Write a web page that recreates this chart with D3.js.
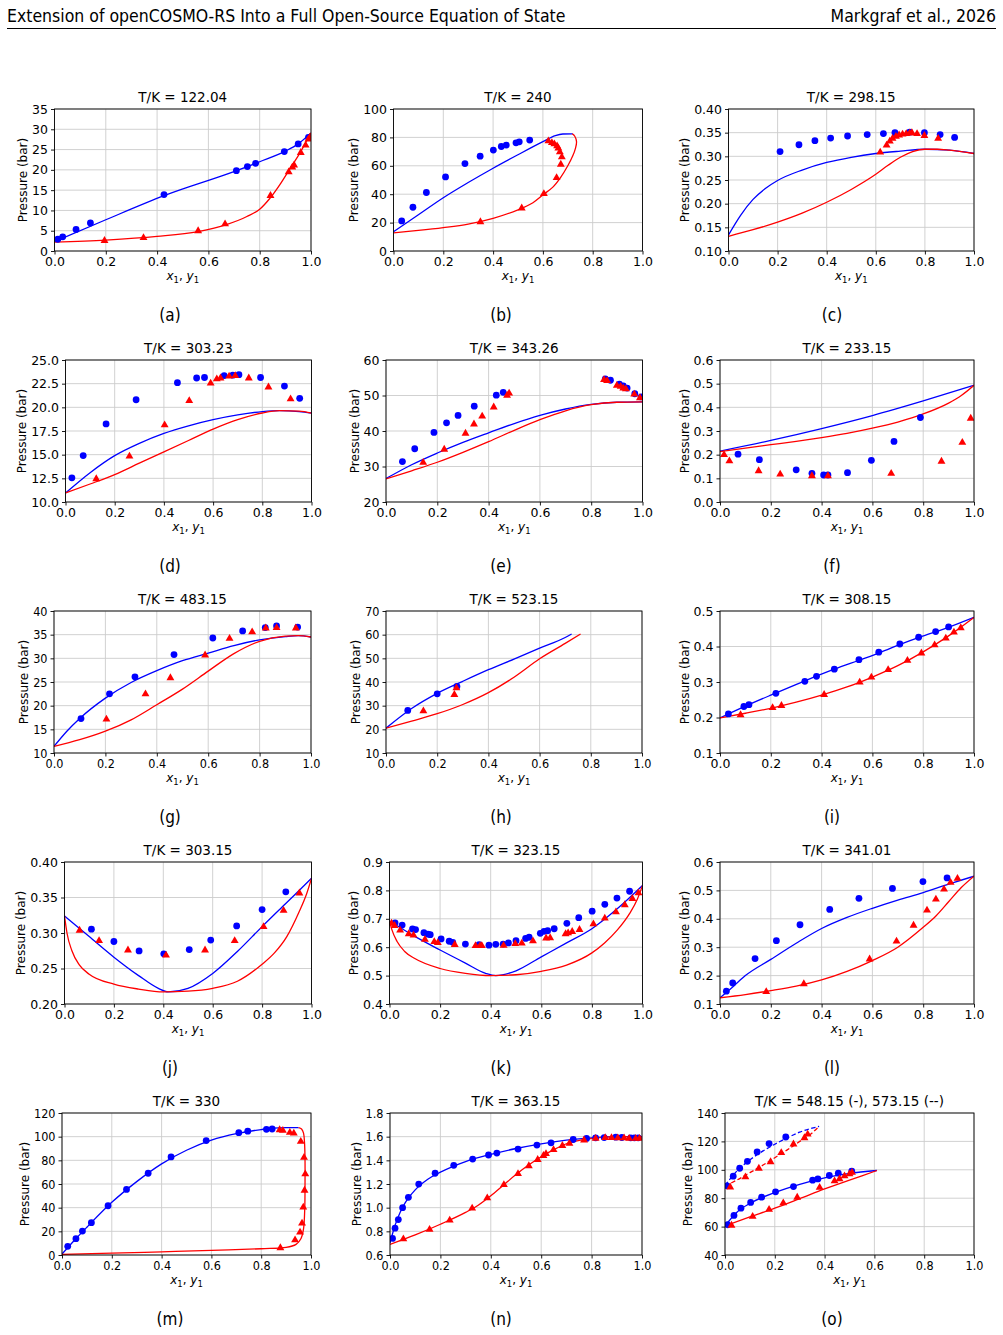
<!DOCTYPE html>
<html>
<head>
<meta charset="utf-8">
<script src="https://cdn.jsdelivr.net/npm/d3@7"></script>
<style>
  body { margin: 0; background: #fff; }
  svg text { font-family: "DejaVu Sans", sans-serif; fill: #000; }
</style>
</head>
<body>
<svg id="fig"></svg>
<script>
// ---- data: [x1 or y1, pressure] ----

// (a) T/K = 122.04
const aCircles = [[0.013,2.9],[0.032,3.5],[0.084,5.3],[0.14,6.9],[0.427,13.9],[0.709,19.8],[0.752,20.8],[0.784,21.6],[0.896,24.5],[0.95,26.4],[0.99,28.0]];
const aTriangles = [[0.195,2.7],[0.347,3.4],[0.56,5.1],[0.665,6.8],[0.842,13.8],[0.913,19.6],[0.927,20.8],[0.934,21.3],[0.96,24.4],[0.979,26.2],[0.99,27.7],[0.995,28.1]];
const aBubble = [[0,2.3],[0.2,7.7],[0.43,13.7],[0.71,19.8],[0.8,22.0],[0.9,24.6],[0.95,26.4],[1.0,29.1]];
const aDew = [[0,2.2],[0.2,2.7],[0.4,3.6],[0.56,4.8],[0.67,6.5],[0.75,8.5],[0.8,10.3],[0.84,13.0],[0.88,16.5],[0.92,20.5],[0.96,24.5],[0.98,26.8],[1.0,29.1]];

// (b) T/K = 240
const bCircles = [[0.033,21.2],[0.078,30.8],[0.132,41.2],[0.209,52.2],[0.287,61.6],[0.348,66.8],[0.401,71.1],[0.433,73.6],[0.453,74.6],[0.492,76.2],[0.505,76.9],[0.547,78.1]];
const bTriangles = [[0.349,20.9],[0.515,30.6],[0.604,40.7],[0.655,52.0],[0.672,61.4],[0.676,66.6],[0.668,70.1],[0.662,72.8],[0.657,74.3],[0.646,75.8],[0.636,76.6],[0.622,77.9]];
const bBubble = [[0,13.5],[0.1,25.5],[0.2,37.5],[0.3,48.2],[0.4,58.3],[0.5,67.8],[0.6,77.0],[0.65,81.3],[0.68,82.4],[0.72,82.5]];
const bDew = [[0,12.8],[0.1,14.5],[0.2,16.5],[0.3,19.0],[0.4,23.0],[0.5,29.0],[0.56,34.0],[0.6,39.5],[0.64,45.0],[0.67,51.5],[0.7,60.0],[0.72,67.0],[0.731,72.5],[0.735,77.0],[0.728,80.8],[0.718,82.5]];

// (c) T/K = 298.15
const cCircles = [[0.21,0.310],[0.287,0.3245],[0.352,0.333],[0.416,0.3386],[0.485,0.343],[0.565,0.346],[0.631,0.348],[0.678,0.350],[0.738,0.351],[0.798,0.350],[0.862,0.346],[0.921,0.340]];
const cTriangles = [[0.618,0.310],[0.644,0.3245],[0.657,0.333],[0.668,0.339],[0.682,0.343],[0.695,0.346],[0.709,0.348],[0.724,0.349],[0.738,0.350],[0.747,0.351],[0.768,0.349],[0.798,0.345],[0.854,0.339]];
const cBubble = [[0,0.134],[0.05,0.176],[0.1,0.209],[0.15,0.232],[0.2,0.249],[0.3,0.271],[0.4,0.287],[0.5,0.298],[0.6,0.306],[0.7,0.311],[0.8,0.315],[0.9,0.313],[1.0,0.306]];
const cDew = [[0,0.131],[0.1,0.145],[0.2,0.161],[0.3,0.18],[0.4,0.203],[0.5,0.23],[0.6,0.262],[0.65,0.281],[0.7,0.298],[0.75,0.31],[0.8,0.315],[0.85,0.315],[0.9,0.313],[1.0,0.306]];

// (d) T/K = 303.23
const dCircles = [[0.026,12.55],[0.072,14.9],[0.165,18.25],[0.287,20.8],[0.455,22.6],[0.533,23.1],[0.565,23.15],[0.645,23.35],[0.68,23.4],[0.705,23.45],[0.793,23.15],[0.89,22.25],[0.952,20.95]];
const dTriangles = [[0.125,12.5],[0.26,14.9],[0.403,18.2],[0.503,20.75],[0.59,22.6],[0.615,23.05],[0.63,23.15],[0.665,23.35],[0.69,23.4],[0.745,23.15],[0.825,22.2],[0.915,20.95]];
const dBubble = [[0,10.95],[0.1,13.1],[0.2,14.9],[0.3,16.2],[0.4,17.25],[0.5,18.05],[0.6,18.7],[0.7,19.2],[0.8,19.55],[0.87,19.65],[0.95,19.55],[1.0,19.4]];
const dDew = [[0,10.95],[0.1,11.9],[0.2,12.9],[0.3,14.1],[0.4,15.3],[0.5,16.5],[0.6,17.7],[0.7,18.7],[0.8,19.4],[0.87,19.65],[0.95,19.6],[1.0,19.4]];

// (e) T/K = 343.26
const eCircles = [[0.064,31.4],[0.112,35.0],[0.187,39.6],[0.236,42.3],[0.281,44.4],[0.344,47.0],[0.43,50.1],[0.457,50.9],[0.855,54.7],[0.875,54.3],[0.91,53.2],[0.925,52.7],[0.94,52.1],[0.97,50.5],[0.995,49.6]];
const eTriangles = [[0.145,31.3],[0.227,35.0],[0.31,39.5],[0.343,42.1],[0.375,44.3],[0.42,46.9],[0.472,50.2],[0.48,50.8],[0.85,54.6],[0.862,54.3],[0.9,53.0],[0.915,52.7],[0.925,52.2],[0.935,52.0],[0.968,50.5],[0.99,49.5]];
const eBubble = [[0,26.6],[0.1,30.5],[0.2,33.8],[0.3,36.8],[0.4,39.5],[0.5,42.1],[0.6,44.4],[0.7,46.2],[0.8,47.5],[0.9,48.1],[1.0,48.2]];
const eDew = [[0,26.5],[0.1,28.8],[0.2,31.2],[0.3,34.0],[0.4,37.0],[0.5,40.2],[0.6,43.2],[0.7,45.7],[0.8,47.4],[0.9,48.1],[1.0,48.2]];

// (f) T/K = 233.15
const fCircles = [[0.071,0.202],[0.155,0.179],[0.30,0.136],[0.362,0.121],[0.408,0.114],[0.425,0.114],[0.502,0.124],[0.596,0.176],[0.685,0.256],[0.789,0.357]];
const fTriangles = [[0.016,0.202],[0.037,0.176],[0.152,0.134],[0.237,0.12],[0.362,0.113],[0.425,0.113],[0.674,0.123],[0.872,0.174],[0.954,0.254],[0.987,0.356]];
const fBubble = [[0,0.215],[0.2,0.26],[0.4,0.31],[0.6,0.365],[0.8,0.427],[1.0,0.493]];
const fDew = [[0,0.213],[0.1,0.228],[0.2,0.242],[0.3,0.256],[0.4,0.272],[0.5,0.29],[0.6,0.312],[0.7,0.338],[0.8,0.372],[0.9,0.418],[0.95,0.45],[1.0,0.493]];

// (g) T/K = 483.15
const gCircles = [[0.105,17.27],[0.216,22.5],[0.315,26.1],[0.467,30.8],[0.618,34.3],[0.734,35.8],[0.822,36.5],[0.866,36.85],[0.948,36.6]];
const gTriangles = [[0.204,17.27],[0.356,22.6],[0.453,26.0],[0.588,30.8],[0.683,34.3],[0.771,35.7],[0.824,36.5],[0.866,36.6],[0.941,36.5]];
const gBubble = [[0,11.4],[0.05,14.6],[0.1,17.3],[0.2,21.6],[0.3,24.9],[0.4,27.4],[0.5,29.5],[0.6,31.1],[0.7,32.7],[0.8,33.9],[0.9,34.6],[0.95,34.8],[1.0,34.5]];
const gDew = [[0,11.4],[0.1,12.8],[0.2,14.6],[0.3,17.0],[0.4,20.2],[0.5,23.5],[0.6,27.3],[0.7,31.0],[0.8,33.6],[0.9,34.7],[0.95,34.8],[1.0,34.5]];

// (h) T/K = 523.15
const hCircles = [[0.085,28.0],[0.2,35.0],[0.277,38.1]];
const hTriangles = [[0.146,28.0],[0.267,34.9],[0.275,37.7]];
const hBubble = [[0,20.5],[0.1,28.8],[0.2,35.2],[0.3,40.3],[0.4,45.2],[0.5,49.7],[0.6,54.3],[0.7,58.8],[0.725,60.3]];
const hDew = [[0,20.5],[0.1,23.5],[0.2,26.6],[0.3,30.5],[0.4,35.5],[0.5,42.0],[0.6,49.8],[0.7,56.3],[0.76,60.3]];

// (i) T/K = 308.15
const iCircles = [[0.033,0.210],[0.094,0.231],[0.114,0.236],[0.22,0.268],[0.334,0.302],[0.38,0.316],[0.45,0.336],[0.547,0.363],[0.625,0.384],[0.708,0.407],[0.782,0.426],[0.849,0.442],[0.9,0.455]];
const iTriangles = [[0.081,0.209],[0.207,0.229],[0.242,0.235],[0.41,0.266],[0.55,0.301],[0.596,0.315],[0.662,0.336],[0.738,0.362],[0.793,0.383],[0.845,0.406],[0.889,0.425],[0.921,0.442],[0.948,0.454]];
const iBubble = [[0,0.199],[0.1,0.232],[0.2,0.263],[0.33,0.302],[0.45,0.336],[0.55,0.362],[0.63,0.383],[0.71,0.406],[0.78,0.425],[0.9,0.454],[1.0,0.482]];
const iDew = [[0,0.199],[0.1,0.212],[0.2,0.226],[0.3,0.243],[0.4,0.263],[0.5,0.286],[0.6,0.314],[0.7,0.346],[0.8,0.385],[0.9,0.43],[1.0,0.482]];

// (j) T/K = 303.15
const jCircles = [[0.109,0.3054],[0.2,0.288],[0.302,0.2748],[0.402,0.2706],[0.505,0.2767],[0.592,0.29],[0.697,0.310],[0.8,0.333],[0.896,0.358]];
const jTriangles = [[0.061,0.3045],[0.14,0.2899],[0.257,0.2767],[0.411,0.2696],[0.569,0.2767],[0.689,0.2899],[0.806,0.3096],[0.887,0.3326],[0.951,0.357]];
const jBubble = [[0,0.324],[0.1,0.295],[0.2,0.266],[0.3,0.24],[0.38,0.222],[0.42,0.217],[0.5,0.222],[0.6,0.243],[0.7,0.274],[0.8,0.309],[0.9,0.343],[1.0,0.377]];
const jDew = [[0,0.324],[0.01,0.3],[0.03,0.275],[0.06,0.255],[0.1,0.242],[0.2,0.228],[0.3,0.221],[0.4,0.217],[0.5,0.218],[0.6,0.222],[0.7,0.232],[0.8,0.256],[0.85,0.272],[0.9,0.295],[0.95,0.33],[0.98,0.355],[1.0,0.377]];

// (k) T/K = 323.15
const kCircles = [[0.022,0.686],[0.05,0.678],[0.091,0.664],[0.103,0.662],[0.136,0.651],[0.152,0.646],[0.161,0.644],[0.204,0.629],[0.236,0.621],[0.25,0.617],[0.30,0.611],[0.354,0.609],[0.393,0.607],[0.42,0.610],[0.449,0.611],[0.47,0.615],[0.50,0.623],[0.538,0.631],[0.552,0.635],[0.596,0.649],[0.611,0.656],[0.625,0.658],[0.651,0.665],[0.701,0.684],[0.748,0.704],[0.801,0.727],[0.851,0.751],[0.899,0.773],[0.949,0.797]];
const kTriangles = [[0.008,0.686],[0.02,0.678],[0.042,0.662],[0.076,0.649],[0.095,0.644],[0.14,0.629],[0.177,0.621],[0.191,0.618],[0.258,0.611],[0.34,0.607],[0.358,0.607],[0.365,0.607],[0.451,0.608],[0.497,0.614],[0.523,0.616],[0.567,0.624],[0.619,0.634],[0.635,0.635],[0.696,0.649],[0.706,0.652],[0.722,0.657],[0.751,0.664],[0.806,0.684],[0.851,0.704],[0.895,0.726],[0.93,0.751],[0.96,0.773],[0.984,0.793]];
const kBubble = [[0,0.692],[0.1,0.638],[0.2,0.59],[0.3,0.544],[0.38,0.508],[0.42,0.5],[0.5,0.517],[0.6,0.566],[0.7,0.615],[0.8,0.665],[0.9,0.735],[1.0,0.817]];
const kDew = [[0,0.692],[0.01,0.66],[0.03,0.62],[0.06,0.585],[0.1,0.56],[0.2,0.525],[0.3,0.508],[0.4,0.5],[0.5,0.503],[0.6,0.515],[0.7,0.537],[0.8,0.58],[0.85,0.615],[0.9,0.66],[0.95,0.72],[0.98,0.77],[1.0,0.817]];

// (l) T/K = 341.01
const lCircles = [[0.025,0.145],[0.05,0.174],[0.138,0.26],[0.222,0.323],[0.315,0.379],[0.432,0.433],[0.547,0.472],[0.679,0.507],[0.799,0.531],[0.894,0.544]];
const lTriangles = [[0.182,0.145],[0.33,0.173],[0.589,0.26],[0.695,0.323],[0.762,0.379],[0.815,0.432],[0.85,0.471],[0.882,0.506],[0.908,0.53],[0.935,0.544]];
const lBubble = [[0,0.122],[0.05,0.16],[0.1,0.2],[0.2,0.257],[0.3,0.314],[0.4,0.366],[0.5,0.405],[0.6,0.437],[0.7,0.466],[0.8,0.492],[0.9,0.522],[1.0,0.55]];
const lDew = [[0,0.122],[0.1,0.133],[0.2,0.147],[0.3,0.163],[0.4,0.185],[0.5,0.215],[0.6,0.253],[0.7,0.3],[0.8,0.37],[0.85,0.41],[0.9,0.46],[0.95,0.51],[1.0,0.55]];

// (m) T/K = 330
const mCircles = [[0.023,7.3],[0.056,13.8],[0.082,20.2],[0.118,27.3],[0.185,41.6],[0.259,55.4],[0.346,69.1],[0.438,82.9],[0.579,96.7],[0.71,103.4],[0.746,104.6],[0.821,106.2],[0.844,106.5]];
const mTriangles = [[0.877,6.5],[0.936,13.2],[0.956,19.7],[0.964,27.3],[0.969,40.8],[0.974,55.1],[0.977,68.9],[0.972,82.9],[0.959,96.4],[0.931,103.4],[0.915,104.0],[0.887,105.7],[0.874,106.2]];
const mBubble = [[0,0.8],[0.05,12.5],[0.1,23.5],[0.2,44.5],[0.3,62.0],[0.4,77.0],[0.5,88.5],[0.6,97.0],[0.7,102.5],[0.8,106.0],[0.85,107.2],[0.9,107.6],[0.95,107.7]];
const mDew = [[0,0.5],[0.2,1.5],[0.4,2.7],[0.6,3.9],[0.8,5.3],[0.9,6.4],[0.94,9.0],[0.96,14.0],[0.97,22.0],[0.975,40.0],[0.976,60.0],[0.976,80.0],[0.974,95.0],[0.97,103.0],[0.962,106.5],[0.95,107.7]];

// (n) T/K = 363.15
const nCircles = [[0.01,0.74],[0.02,0.827],[0.033,0.899],[0.05,1.0],[0.073,1.087],[0.114,1.199],[0.179,1.291],[0.253,1.358],[0.328,1.411],[0.391,1.445],[0.424,1.461],[0.508,1.495],[0.583,1.529],[0.639,1.548],[0.727,1.576],[0.78,1.585],[0.816,1.59],[0.85,1.592],[0.896,1.596],[0.92,1.593],[0.955,1.59],[0.97,1.59],[0.985,1.59]];
const nTriangles = [[0.053,0.74],[0.157,0.821],[0.237,0.899],[0.326,1.0],[0.386,1.087],[0.452,1.199],[0.508,1.291],[0.551,1.358],[0.586,1.411],[0.609,1.445],[0.619,1.461],[0.649,1.495],[0.684,1.529],[0.712,1.548],[0.77,1.576],[0.816,1.59],[0.854,1.596],[0.879,1.596],[0.904,1.593],[0.929,1.593],[0.949,1.59],[0.975,1.59],[0.99,1.59]];
const nBubble = [[0,0.7],[0.01,0.78],[0.02,0.85],[0.04,0.96],[0.06,1.04],[0.1,1.15],[0.15,1.24],[0.2,1.3],[0.3,1.39],[0.4,1.45],[0.5,1.5],[0.6,1.54],[0.7,1.57],[0.8,1.59],[0.9,1.6],[1.0,1.6]];
const nDew = [[0,0.69],[0.1,0.77],[0.2,0.86],[0.3,0.96],[0.35,1.02],[0.4,1.1],[0.45,1.19],[0.5,1.28],[0.55,1.36],[0.6,1.43],[0.65,1.49],[0.7,1.54],[0.8,1.585],[0.9,1.6],[1.0,1.6]];

// (o) T/K = 548.15 (solid) and 573.15 (dashed)
const oCircles = [[0.008,88.7],[0.033,95.5],[0.059,101.1],[0.09,106.0],[0.129,112.6],[0.177,118.5],[0.244,123.1],
                  [0.01,61.3],[0.036,67.9],[0.064,73.0],[0.103,77.0],[0.147,80.7],[0.203,84.5],[0.275,88.2],[0.352,92.7],[0.373,93.6],[0.419,96.0],[0.455,97.6],[0.509,99.0]];
const oTriangles = [[0.021,88.2],[0.082,95.3],[0.136,101.4],[0.183,106.0],[0.226,112.4],[0.275,118.5],[0.319,122.9],[0.332,125.5],
                    [0.026,61.3],[0.111,67.5],[0.177,72.5],[0.234,77.0],[0.29,81.0],[0.38,88.0],[0.44,92.5],[0.46,94.0],[0.48,96.0],[0.5,97.5],[0.51,98.5]];
const oBubble548 = [[0,60.5],[0.05,70.5],[0.1,76.3],[0.2,84.0],[0.3,89.8],[0.4,94.3],[0.5,97.5],[0.61,99.5]];
const oDew548 = [[0,60.5],[0.1,66.8],[0.2,73.0],[0.3,79.7],[0.4,86.5],[0.5,92.8],[0.55,95.8],[0.61,99.5]];
const oBubble573 = [[0,89.0],[0.05,99.5],[0.1,107.0],[0.15,113.0],[0.2,118.0],[0.25,122.5],[0.3,126.5],[0.378,130.6]];
const oDew573 = [[0,88.5],[0.05,93.0],[0.1,98.0],[0.15,103.0],[0.2,108.5],[0.25,114.0],[0.3,120.0],[0.35,126.0],[0.378,130.6]];

// tick values
const xTickValues = [0, 0.2, 0.4, 0.6, 0.8, 1.0];
const aYTicks = [0, 5, 10, 15, 20, 25, 30, 35];
const bYTicks = [0, 20, 40, 60, 80, 100];
const cYTicks = [0.10, 0.15, 0.20, 0.25, 0.30, 0.35, 0.40];
const dYTicks = [10, 12.5, 15, 17.5, 20, 22.5, 25];
const eYTicks = [20, 30, 40, 50, 60];
const fYTicks = [0, 0.1, 0.2, 0.3, 0.4, 0.5, 0.6];
const gYTicks = [10, 15, 20, 25, 30, 35, 40];
const hYTicks = [10, 20, 30, 40, 50, 60, 70];
const iYTicks = [0.1, 0.2, 0.3, 0.4, 0.5];
const jYTicks = [0.20, 0.25, 0.30, 0.35, 0.40];
const kYTicks = [0.4, 0.5, 0.6, 0.7, 0.8, 0.9];
const lYTicks = [0.1, 0.2, 0.3, 0.4, 0.5, 0.6];
const mYTicks = [0, 20, 40, 60, 80, 100, 120];
const nYTicks = [0.6, 0.8, 1.0, 1.2, 1.4, 1.6, 1.8];
const oYTicks = [40, 60, 80, 100, 120, 140];

const BLUE = '#0000ff', RED = '#ff0000';
// lines whose x runs monotonically use a monotone curve; loops (b, m dew) use Catmull-Rom
const sol = (pts, color, loop) => ({ pts, color, dash: false, loop: !!loop });

const panels = [
  { id: 'a', title: 'T/K = 122.04', ticks: aYTicks, fmt: 'd', left: 54.5, right: 311, row: 0, col: 0, circles: aCircles, triangles: aTriangles, lines: [sol(aBubble, BLUE), sol(aDew, RED)] },
  { id: 'b', title: 'T/K = 240', ticks: bYTicks, fmt: 'd', left: 393.5, right: 642.5, row: 0, col: 1, circles: bCircles, triangles: bTriangles, lines: [sol(bBubble, BLUE), sol(bDew, RED, true)] },
  { id: 'c', title: 'T/K = 298.15', ticks: cYTicks, fmt: '.2f', left: 728.5, right: 974, row: 0, col: 2, circles: cCircles, triangles: cTriangles, lines: [sol(cBubble, BLUE), sol(cDew, RED)] },
  { id: 'd', title: 'T/K = 303.23', ticks: dYTicks, fmt: '.1f', left: 65.5, right: 311.5, row: 1, col: 0, circles: dCircles, triangles: dTriangles, lines: [sol(dBubble, BLUE), sol(dDew, RED)] },
  { id: 'e', title: 'T/K = 343.26', ticks: eYTicks, fmt: 'd', left: 386, right: 642.5, row: 1, col: 1, circles: eCircles, triangles: eTriangles, lines: [sol(eBubble, BLUE), sol(eDew, RED)] },
  { id: 'f', title: 'T/K = 233.15', ticks: fYTicks, fmt: '.1f', left: 720, right: 974, row: 1, col: 2, circles: fCircles, triangles: fTriangles, lines: [sol(fBubble, BLUE), sol(fDew, RED)] },
  { id: 'g', title: 'T/K = 483.15', ticks: gYTicks, fmt: 'd', left: 54, right: 311, row: 2, col: 0, condensed: true, circles: gCircles, triangles: gTriangles, lines: [sol(gBubble, BLUE), sol(gDew, RED)] },
  { id: 'h', title: 'T/K = 523.15', ticks: hYTicks, fmt: 'd', left: 386, right: 642, row: 2, col: 1, condensed: true, circles: hCircles, triangles: hTriangles, lines: [sol(hBubble, BLUE), sol(hDew, RED)] },
  { id: 'i', title: 'T/K = 308.15', ticks: iYTicks, fmt: '.1f', left: 720, right: 974, row: 2, col: 2, circles: iCircles, triangles: iTriangles, lines: [sol(iBubble, BLUE), sol(iDew, RED)] },
  { id: 'j', title: 'T/K = 303.15', ticks: jYTicks, fmt: '.2f', left: 64.5, right: 311.5, row: 3, col: 0, circles: jCircles, triangles: jTriangles, lines: [sol(jBubble, BLUE), sol(jDew, RED)] },
  { id: 'k', title: 'T/K = 323.15', ticks: kYTicks, fmt: '.1f', left: 389.5, right: 642.5, row: 3, col: 1, circles: kCircles, triangles: kTriangles, lines: [sol(kBubble, BLUE), sol(kDew, RED)] },
  { id: 'l', title: 'T/K = 341.01', ticks: lYTicks, fmt: '.1f', left: 720, right: 974, row: 3, col: 2, circles: lCircles, triangles: lTriangles, lines: [sol(lBubble, BLUE), sol(lDew, RED)] },
  { id: 'm', title: 'T/K = 330', ticks: mYTicks, fmt: 'd', left: 62, right: 311, row: 4, col: 0, condensed: true, circles: mCircles, triangles: mTriangles, lines: [sol(mBubble, BLUE), sol(mDew, RED, true)] },
  { id: 'n', title: 'T/K = 363.15', ticks: nYTicks, fmt: '.1f', left: 390, right: 642, row: 4, col: 1, condensed: true, circles: nCircles, triangles: nTriangles, lines: [sol(nBubble, BLUE), sol(nDew, RED)] },
  { id: 'o', title: 'T/K = 548.15 (-), 573.15 (--)', ticks: oYTicks, fmt: 'd', left: 725, right: 974, row: 4, col: 2, condensed: true, circles: oCircles, triangles: oTriangles,
    lines: [sol(oBubble548, BLUE), sol(oDew548, RED), { pts: oBubble573, color: BLUE, dash: true }, { pts: oDew573, color: RED, dash: true }] }
];

// ---- layout ----
const W = 1003, H = 1335;
const rowTop = [109, 360, 611, 862, 1113];
const plotH = 142;
const letterX = [170, 501, 832];
const condensedFont = '"DejaVu Sans Condensed", "DejaVu Sans", sans-serif';

const svg = d3.select('#fig').attr('width', W).attr('height', H);
const defs = svg.append('defs');

// page header
svg.append('text')
    .attr('x', 7).attr('y', 22)
    .style('font-family', condensedFont)
    .style('font-size', '17.5px')
    .text('Extension of openCOSMO-RS Into a Full Open-Source Equation of State');
svg.append('text')
    .attr('x', 996).attr('y', 22)
    .attr('text-anchor', 'end')
    .style('font-family', condensedFont)
    .style('font-size', '17.5px')
    .text('Markgraf et al., 2026');
svg.append('line')
    .attr('x1', 7).attr('x2', 996).attr('y1', 28.5).attr('y2', 28.5)
    .attr('stroke', '#000').attr('stroke-width', 1);

const triangle = d3.symbol().type(d3.symbolTriangle).size(27);

panels.forEach(drawPanel);

function drawPanel(p) {
  const top = rowTop[p.row];
  const bottom = top + plotH;
  const font = p.condensed ? condensedFont : '"DejaVu Sans", sans-serif';
  const yDomain = [p.ticks[0], p.ticks[p.ticks.length - 1]];

  const x = d3.scaleLinear().domain([0, 1]).range([p.left, p.right]);
  const y = d3.scaleLinear().domain(yDomain).range([bottom, top]);

  const g = svg.append('g').attr('id', 'panel-' + p.id).style('font-family', font);

  // grid
  g.append('g').selectAll('line').data(xTickValues).join('line')
      .attr('x1', d => x(d)).attr('x2', d => x(d))
      .attr('y1', top).attr('y2', bottom)
      .attr('stroke', '#cccccc').attr('stroke-width', 0.9);
  g.append('g').selectAll('line').data(p.ticks).join('line')
      .attr('x1', p.left).attr('x2', p.right)
      .attr('y1', d => y(d)).attr('y2', d => y(d))
      .attr('stroke', '#cccccc').attr('stroke-width', 0.9);

  // clip to axes box
  defs.append('clipPath').attr('id', 'clip-' + p.id)
    .append('rect')
      .attr('x', p.left).attr('y', top)
      .attr('width', p.right - p.left).attr('height', plotH);
  const plot = g.append('g').attr('clip-path', `url(#clip-${p.id})`);

  p.lines.forEach(l => {
    const lineGen = d3.line()
        .x(d => x(d[0]))
        .y(d => y(d[1]))
        .curve(l.loop ? d3.curveCatmullRom.alpha(0.5) : d3.curveMonotoneX);
    plot.append('path')
        .attr('d', lineGen(l.pts))
        .attr('fill', 'none')
        .attr('stroke', l.color)
        .attr('stroke-width', 1.3)
        .attr('stroke-dasharray', l.dash ? '4.5,2.5' : null);
  });

  plot.append('g').selectAll('circle').data(p.circles).join('circle')
      .attr('cx', d => x(d[0]))
      .attr('cy', d => y(d[1]))
      .attr('r', 3.4)
      .attr('fill', BLUE);

  plot.append('g').selectAll('path').data(p.triangles).join('path')
      .attr('d', triangle)
      .attr('transform', d => `translate(${x(d[0])},${y(d[1]) + 0.6})`)
      .attr('fill', RED);

  // axes
  const xAxis = d3.axisBottom(x).tickValues(xTickValues).tickFormat(d3.format('.1f'))
      .tickSize(3.5).tickPadding(3);
  const yAxis = d3.axisLeft(y).tickValues(p.ticks).tickFormat(d3.format(p.fmt))
      .tickSize(3.5).tickPadding(3);

  const xAxisG = g.append('g').attr('transform', `translate(0,${bottom})`).call(xAxis);
  const yAxisG = g.append('g').attr('transform', `translate(${p.left},0)`).call(yAxis);
  [xAxisG, yAxisG].forEach(a => {
    a.attr('font-family', null).attr('font-size', null);
    a.select('.domain').remove();
    a.selectAll('line').attr('stroke', '#000').attr('stroke-width', 0.9);
    a.selectAll('text').style('font-size', '12.5px').style('font-family', font).attr('fill', '#000');
  });

  // frame
  g.append('rect')
      .attr('x', p.left).attr('y', top)
      .attr('width', p.right - p.left).attr('height', plotH)
      .attr('fill', 'none').attr('stroke', '#000').attr('stroke-width', 0.9);

  const cx = (p.left + p.right) / 2;

  // title
  g.append('text')
      .attr('x', cx).attr('y', top - 7)
      .attr('text-anchor', 'middle')
      .style('font-size', '13.5px')
      .text(p.title);

  // x label: x1, y1
  const xl = g.append('text')
      .attr('x', cx).attr('y', bottom + 29)
      .attr('text-anchor', 'middle')
      .style('font-size', '12px');
  xl.append('tspan').style('font-style', 'italic').text('x');
  xl.append('tspan').style('font-size', '8.5px').attr('dy', 2.5).text('1');
  xl.append('tspan').attr('dy', -2.5).text(', ');
  xl.append('tspan').style('font-style', 'italic').text('y');
  xl.append('tspan').style('font-size', '8.5px').attr('dy', 2.5).text('1');

  // y label placed left of the tick labels
  const tickW = yAxisG.node().getBBox().width;
  g.append('text')
      .attr('transform', `translate(${p.left - tickW - 5},${(top + bottom) / 2}) rotate(-90)`)
      .attr('text-anchor', 'middle')
      .style('font-size', '12px')
      .text('Pressure (bar)');

  // panel letter
  svg.append('text')
      .attr('x', letterX[p.col]).attr('y', bottom + 70)
      .attr('text-anchor', 'middle')
      .style('font-family', condensedFont)
      .style('font-size', '17px')
      .text(`(${p.id})`);
}
</script>
</body>
</html>
